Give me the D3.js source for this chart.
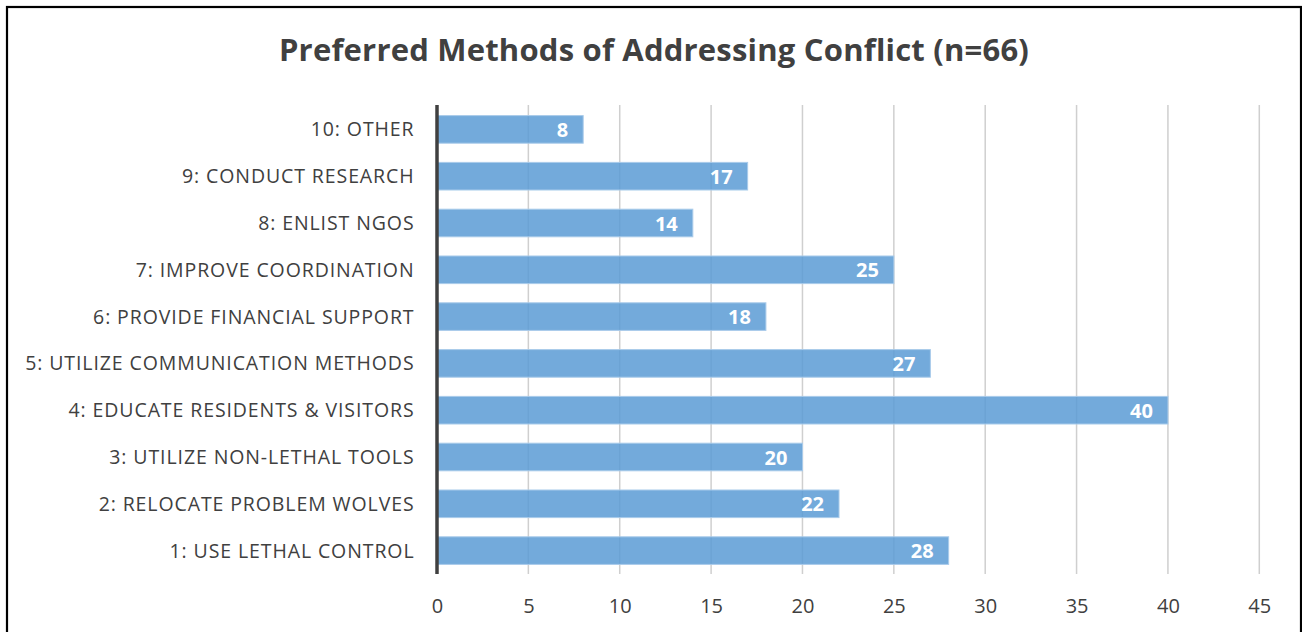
<!DOCTYPE html>
<html><head><meta charset="utf-8">
<script src="https://cdn.jsdelivr.net/npm/d3@7"></script>
<style>html,body{margin:0;padding:0;background:#fff;}svg{display:block;}</style>
</head><body>
<script>
const categories = ["10: OTHER","9: CONDUCT RESEARCH","8: ENLIST NGOS","7: IMPROVE COORDINATION","6: PROVIDE FINANCIAL SUPPORT","5: UTILIZE COMMUNICATION METHODS","4: EDUCATE RESIDENTS & VISITORS","3: UTILIZE NON-LETHAL TOOLS","2: RELOCATE PROBLEM WOLVES","1: USE LETHAL CONTROL"];
const values = [8,17,14,25,18,27,40,20,22,28];
const xTicks = [0,5,10,15,20,25,30,35,40,45];
const title = "Preferred Methods of Addressing Conflict (n=66)";

const W = 1302, H = 632;
const font = "'Open Sans', 'Liberation Sans', sans-serif";
const svg = d3.select("body").append("svg").attr("width", W).attr("height", H);

svg.append("rect").attr("x", 7).attr("y", 7).attr("width", 1294).attr("height", 660)
  .attr("fill", "#fff").attr("stroke", "#000").attr("stroke-width", 2.2);

svg.append("text").attr("x", 654).attr("y", 61).attr("text-anchor", "middle")
  .attr("font-family", font).attr("font-weight", "bold").attr("font-size", 31)
  .attr("letter-spacing", 0.2).attr("fill", "#404040").text(title);

const x = d3.scaleLinear().domain([0, 45]).range([437, 1259.3]);
const y = d3.scaleBand().domain(categories).range([106, 574]).paddingInner(0.41).paddingOuter(0.205);

// gridlines
svg.append("g").selectAll("line").data(xTicks.filter(d => d > 0)).join("line")
  .attr("x1", d => x(d)).attr("x2", d => x(d)).attr("y1", 105).attr("y2", 574)
  .attr("stroke", "#cfcfcf").attr("stroke-width", 1.5);

// bars
svg.append("g").selectAll("rect").data(values).join("rect")
  .attr("x", x(0)).attr("y", (d, i) => y(categories[i]))
  .attr("width", d => x(d) - x(0)).attr("height", y.bandwidth())
  .attr("fill", "#5B9BD5").attr("fill-opacity", 0.85)
  .attr("stroke", "#a9cbea").attr("stroke-width", 1);

// data labels
svg.append("g").selectAll("text").data(values).join("text")
  .attr("x", d => x(d) - 15).attr("y", (d, i) => y(categories[i]) + y.bandwidth() / 2 + 7.5)
  .attr("text-anchor", "end").attr("font-family", font).attr("font-weight", "bold")
  .attr("font-size", 20).attr("fill", "#fff").text(d => d);

// category labels
const yAxis = d3.axisLeft(y).tickSize(0).tickPadding(22.5);
const gy = svg.append("g").attr("transform", `translate(${x(0)},0)`).call(yAxis);
gy.select(".domain").remove();
gy.selectAll("text").attr("font-family", font).attr("font-size", 19.5)
  .attr("letter-spacing", 0.9).attr("dy", "0.36em").attr("fill", "#404040");

// x axis labels
const xAxis = d3.axisBottom(x).tickValues(xTicks).tickSize(0).tickPadding(0);
const gx = svg.append("g").attr("transform", `translate(0,599)`).call(xAxis);
gx.select(".domain").remove();
gx.selectAll("text").attr("font-family", font).attr("font-size", 20).attr("fill", "#404040");

// vertical axis line
svg.append("line").attr("x1", x(0)).attr("x2", x(0)).attr("y1", 105).attr("y2", 574)
  .attr("stroke", "#404040").attr("stroke-width", 3.5);
</script>
</body></html>
